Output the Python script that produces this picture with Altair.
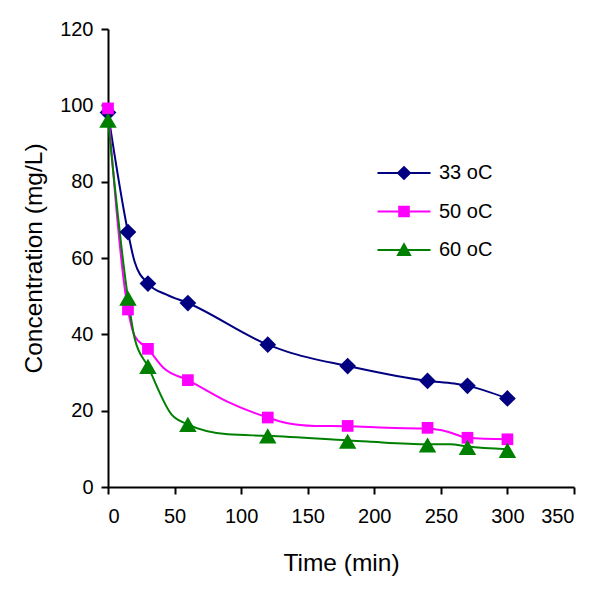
import altair as alt
import pandas as pd

series = ["33 oC", "50 oC", "60 oC"]
colors = ["#000080", "#FF00FF", "#008000"]
shapes = ["diamond", "square", "triangle-up"]
marker_sizes = [280, 137, 306]
legend_shapes = [
    "M-2.65,0L2.65,0M-0.6,0L0,-0.58L0.6,0L0,0.58Z",
    "M-2.65,0L2.65,0M-0.48,-0.48L0.48,-0.48L0.48,0.48L-0.48,0.48Z",
    "M-2.65,0L2.65,0M0,-0.58L0.6,0.5L-0.6,0.5Z",
]

# measured points (markers)
times = [0, 15, 30, 60, 120, 180, 240, 270, 300]
c33 = [98.1, 66.8, 53.3, 48.2, 37.3, 31.7, 27.8, 26.5, 23.2]
c50 = [99.2, 46.5, 36.2, 28.0, 18.2, 16.0, 15.5, 12.9, 12.5]
c60 = [96.1, 49.5, 31.6, 16.4, 13.4, 12.0, 11.0, 10.4, 9.6]

# curve points (lines)
l33_t = [0, 15, 20, 30, 44, 60, 120, 135, 180, 240, 260, 270, 300]
l33_c = [98.1, 66.8, 59.0, 53.3, 50.4, 48.2, 37.3, 35.4, 31.7, 27.8, 27.1, 26.5, 23.2]
l50_t = [0, 15, 20, 30, 42, 60, 90, 120, 135, 155, 180, 210, 240, 255, 270, 300]
l50_c = [99.2, 46.5, 39.6, 36.2, 31.1, 28.0, 22.3, 18.2, 16.7, 16.0, 15.9, 15.5, 15.3, 14.5, 12.9, 12.5]
l60_t = [0, 15, 20, 30, 48, 60, 90, 120, 180, 195, 240, 257, 270, 300]
l60_c = [96.1, 49.5, 39.0, 31.6, 18.9, 16.4, 13.8, 13.4, 12.2, 11.9, 11.2, 11.2, 10.6, 9.9]

pts = pd.DataFrame({
    "t": times * 3,
    "c": c33 + c50 + c60,
    "series": [s for s in series for _ in times],
    "col": [c for c in colors for _ in times],
    "shp": [s for s in shapes for _ in times],
    "msize": [m for m in marker_sizes for _ in times],
})
lt = [l33_t, l50_t, l60_t]
lines = pd.DataFrame({
    "t": l33_t + l50_t + l60_t,
    "c": l33_c + l50_c + l60_c,
    "series": [series[i] for i in range(3) for _ in lt[i]],
    "col": [colors[i] for i in range(3) for _ in lt[i]],
})

x = alt.X("t:Q", scale=alt.Scale(domain=[0, 350], nice=False),
          axis=alt.Axis(values=list(range(0, 351, 50)), title="Time (min)",
                        labelPadding=12, titlePadding=25))
y = alt.Y("c:Q", scale=alt.Scale(domain=[0, 120], nice=False),
          axis=alt.Axis(values=list(range(0, 121, 20)), title="Concentration (mg/L)",
                        labelPadding=8, titlePadding=13))

line = alt.Chart(lines).mark_line(strokeWidth=2, interpolate="monotone").encode(
    x=x, y=y, color=alt.Color("col:N", scale=None), detail="series:N"
)
points = alt.Chart(pts).mark_point(filled=True, opacity=1).encode(
    x=x, y=y,
    color=alt.Color("col:N", scale=None),
    shape=alt.Shape("shp:N", scale=None),
    size=alt.Size("msize:Q", scale=None),
)
leg = alt.Chart(pts).transform_filter("false").mark_point(filled=True, opacity=1, strokeWidth=2).encode(
    x=x, y=y,
    fill=alt.Fill("series:N", scale=alt.Scale(domain=series, range=colors), title=None),
    stroke=alt.Stroke("series:N", scale=alt.Scale(domain=series, range=colors), title=None),
    shape=alt.Shape("series:N", scale=alt.Scale(domain=series, range=legend_shapes), title=None),
)

chart = alt.layer(line, points, leg).properties(
    width=466, height=458,
    autosize=alt.AutoSizeParams(type="none"),
    padding={"left": 100, "top": 21, "right": 17, "bottom": 95},
    background="white",
).configure_view(stroke=None).configure_axis(
    domainColor="black", domainWidth=2, tickColor="black", tickWidth=2, tickSize=7,
    labelFont="Liberation Sans", labelFontSize=20, labelColor="black",
    titleFont="Liberation Sans", titleFontSize=24.5, titleFontWeight="normal", titleColor="black",
    grid=False,
).configure_legend(
    orient="none", legendX=285, legendY=133, padding=0,
    labelFont="Liberation Sans", labelFontSize=20, labelColor="black", labelOffset=24,
    symbolSize=400, symbolStrokeWidth=2, rowPadding=17.5,
)

chart.save("out.html", embed_options={"renderer": "svg", "actions": False})
